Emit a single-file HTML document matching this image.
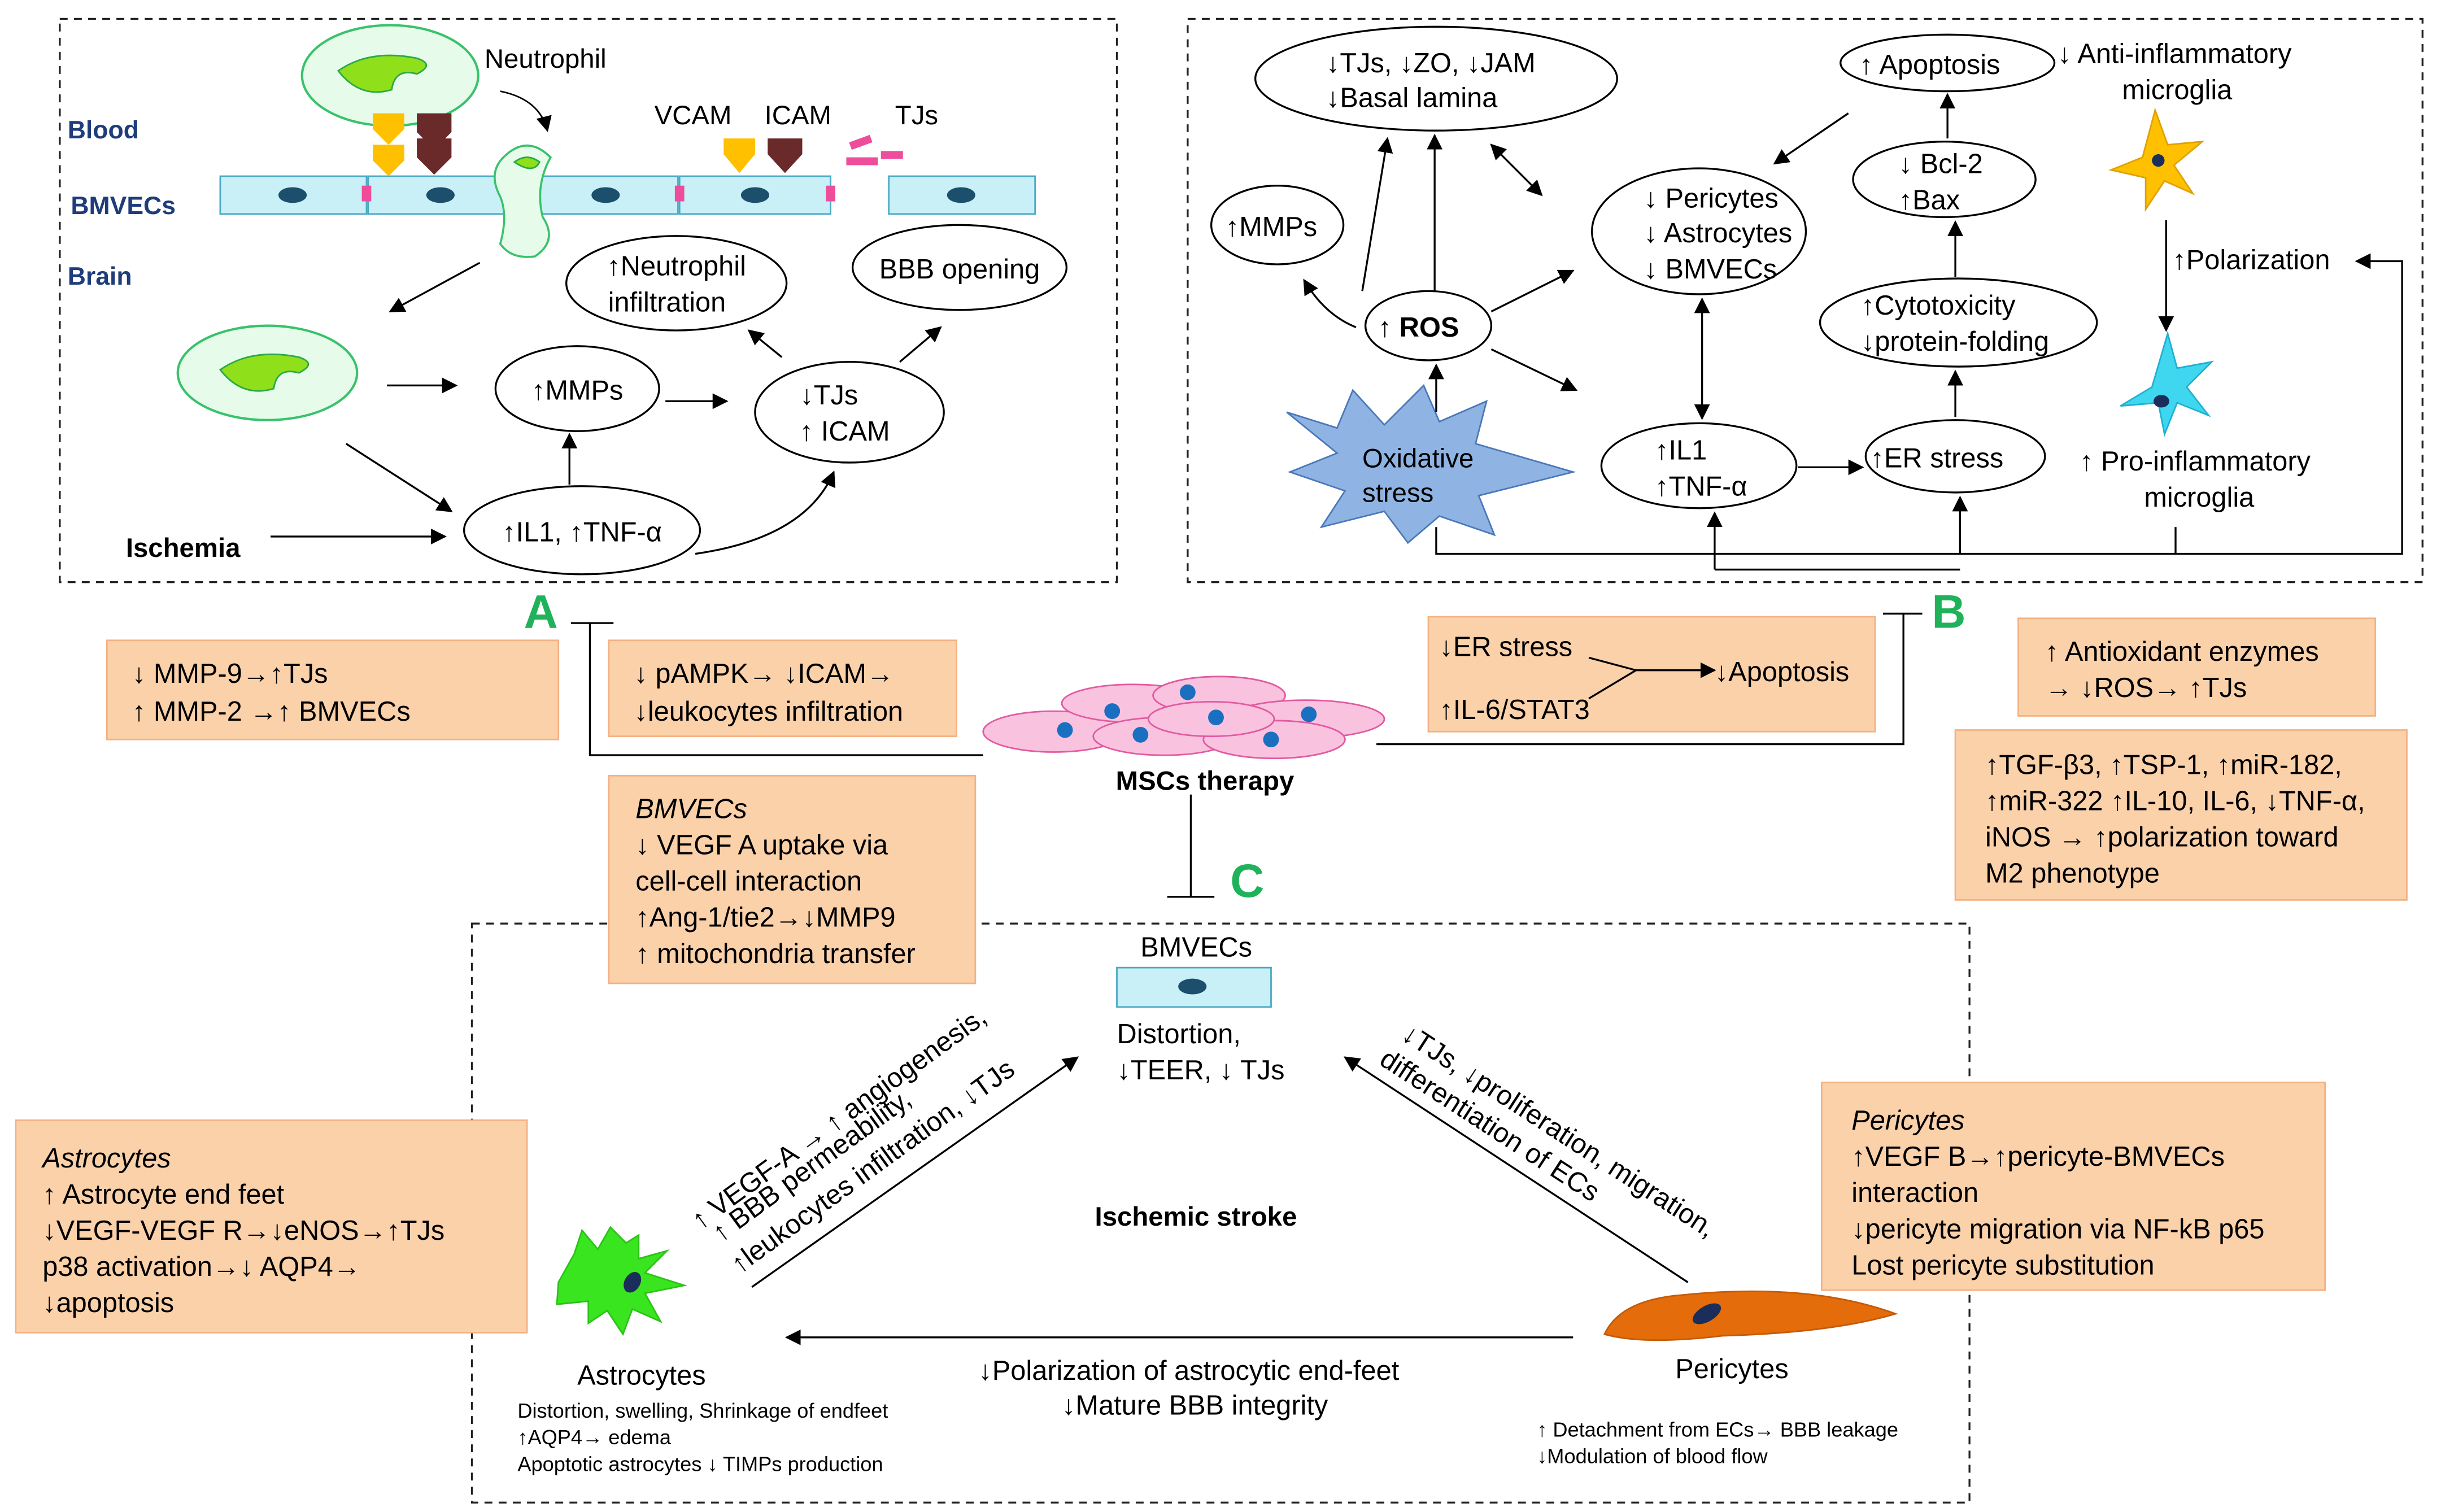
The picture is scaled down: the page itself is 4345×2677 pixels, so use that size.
<!DOCTYPE html>
<html><head><meta charset="utf-8"><style>
html,body{margin:0;padding:0;background:#fff}
svg{display:block}
text{font-family:"Liberation Sans",Arial,sans-serif;fill:#000}
</style></head><body>
<svg width="4345" height="2677" viewBox="0 0 1560 961" preserveAspectRatio="none" xmlns="http://www.w3.org/2000/svg">
<defs>
<marker id="ar" markerWidth="10" markerHeight="10" refX="9" refY="5" orient="auto" markerUnits="userSpaceOnUse"><path d="M0,0 L10,5 L0,10 z" fill="#000"/></marker>
<marker id="ar2" markerWidth="10" markerHeight="10" refX="1" refY="5" orient="auto" markerUnits="userSpaceOnUse"><path d="M10,0 L0,5 L10,10 z" fill="#000"/></marker>
</defs>
<g fill="none" stroke="#222" stroke-width="1.2" stroke-dasharray="5,4">
<rect x="38" y="12" width="672" height="358"/>
<rect x="755" y="12" width="785" height="358"/>
<rect x="300" y="587" width="952" height="368"/>
</g>
<!-- Panel A -->
<g font-size="16" font-weight="bold">
<text x="43" y="88" style="fill:#1f3d7a">Blood</text>
<text x="45" y="136" style="fill:#1f3d7a">BMVECs</text>
<text x="43" y="181" style="fill:#1f3d7a">Brain</text>
</g>
<g fill="#c9f0f7" stroke="#4aa9c4" stroke-width="1">
<rect x="140" y="112" width="93" height="24"/><rect x="234" y="112" width="93" height="24"/>
<rect x="338" y="112" width="93" height="24"/><rect x="432" y="112" width="96" height="24"/>
<rect x="565" y="112" width="93" height="24"/>
</g>
<g fill="#1b4f6b"><ellipse cx="186" cy="124" rx="9" ry="5"/><ellipse cx="280" cy="124" rx="9" ry="5"/><ellipse cx="385" cy="124" rx="9" ry="5"/><ellipse cx="480" cy="124" rx="9" ry="5"/><ellipse cx="611" cy="124" rx="9" ry="5"/></g>
<g fill="#ee4d9b"><rect x="230" y="118" width="6" height="10"/><rect x="325" y="118" width="6" height="10"/><rect x="429" y="118" width="6" height="10"/><rect x="525" y="118" width="6" height="10"/><rect x="540" y="88" width="14" height="5" transform="rotate(-20 547 90)"/><rect x="538" y="100" width="20" height="5"/><rect x="560" y="96" width="14" height="5"/></g>
<ellipse cx="248" cy="48" rx="56" ry="32" fill="#e6fbe9" stroke="#39c26b" stroke-width="1.5"/>
<path d="M215,45 q20,-14 50,-8 q12,4 0,10 q-14,-4 -16,10 q-20,6 -34,-12z" fill="#8fdf1a" stroke="#2aa84a"/>
<path d="M237,72 l20,0 0,10 -10,10 -10,-10z" fill="#ffc000"/>
<path d="M237,92 l20,0 0,10 -10,10 -10,-10z" fill="#ffc000"/>
<path d="M265,88 l22,0 0,12 -11,11 -11,-11z M265,72 l22,0 0,12 -11,11 -11,-11z" fill="#6b2a2a"/>
<path d="M460,88 l20,0 0,10 -10,12 -10,-12z" fill="#ffc000"/>
<path d="M488,88 l22,0 0,10 -11,12 -11,-12z" fill="#6b2a2a"/>
<path d="M320,100 q15,-15 30,0 q-10,18 -5,38 q10,15 -5,25 q-15,2 -22,-8 q5,-18 0,-30 q-8,-15 2,-25z" fill="#e6fbe9" stroke="#39c26b" stroke-width="1.3"/>
<path d="M327,103 q8,-6 16,0 q-4,8 -16,0z" fill="#8fdf1a" stroke="#2aa84a"/>
<text x="308" y="43" font-size="17">Neutrophil</text>
<path d="M318,58 q25,5 30,25" fill="none" stroke="#000" marker-end="url(#ar)"/>
<text x="416" y="79" font-size="17">VCAM</text><text x="486" y="79" font-size="17">ICAM</text><text x="569" y="79" font-size="17">TJs</text>
<ellipse cx="170" cy="237" rx="57" ry="30" fill="#e6fbe9" stroke="#39c26b" stroke-width="1.5"/>
<path d="M140,235 q20,-14 50,-8 q12,4 0,10 q-14,-4 -16,10 q-20,6 -34,-12z" fill="#8fdf1a" stroke="#2aa84a"/>
<g fill="#fff" stroke="#000" stroke-width="1.2">
<ellipse cx="367" cy="247" rx="52" ry="27"/><ellipse cx="430" cy="180" rx="70" ry="30"/>
<ellipse cx="610" cy="170" rx="68" ry="27"/><ellipse cx="540" cy="262" rx="60" ry="32"/>
<ellipse cx="370" cy="337" rx="75" ry="28"/>
</g>
<g font-size="17.5" text-anchor="middle">
<text x="367" y="254">↑MMPs</text>
<text x="430" y="175">↑Neutrophil</text><text x="424" y="198">infiltration</text>
<text x="610" y="177">BBB opening</text>
<text x="527" y="257">↓TJs</text><text x="537" y="280">↑ ICAM</text>
<text x="370" y="344">↑IL1, ↑TNF-α</text>
</g>
<text x="80" y="354" font-size="17" font-weight="bold">Ischemia</text>
<g stroke="#000" stroke-width="1.2" fill="none">
<line x1="305" y1="167" x2="248" y2="198" marker-end="url(#ar)"/>
<line x1="246" y1="245" x2="290" y2="245" marker-end="url(#ar)"/>
<line x1="220" y1="282" x2="287" y2="325" marker-end="url(#ar)"/>
<line x1="172" y1="341" x2="283" y2="341" marker-end="url(#ar)"/>
<line x1="362" y1="308" x2="362" y2="276" marker-end="url(#ar)"/>
<line x1="423" y1="255" x2="462" y2="255" marker-end="url(#ar)"/>
<line x1="497" y1="227" x2="476" y2="210" marker-end="url(#ar)"/>
<line x1="572" y1="230" x2="598" y2="208" marker-end="url(#ar)"/>
<path d="M442,352 q70,-10 88,-52" marker-end="url(#ar)"/>
</g>
<!-- Panel B -->
<g fill="#fff" stroke="#000" stroke-width="1.2">
<ellipse cx="913" cy="50" rx="115" ry="33"/><ellipse cx="812" cy="143" rx="42" ry="25"/>
<ellipse cx="908" cy="207" rx="40" ry="22"/><ellipse cx="1080" cy="147" rx="68" ry="40"/>
<ellipse cx="1238" cy="40" rx="68" ry="18"/><ellipse cx="1236" cy="114" rx="58" ry="24"/>
<ellipse cx="1245" cy="205" rx="88" ry="28"/><ellipse cx="1243" cy="290" rx="57" ry="23"/>
<ellipse cx="1080" cy="296" rx="62" ry="27"/>
</g>
<g font-size="17.5">
<text x="843" y="46">↓TJs, ↓ZO, ↓JAM</text><text x="843" y="68">↓Basal lamina</text>
<text x="779" y="150">↑MMPs</text>
<text x="876" y="214">↑ <tspan font-weight="bold">ROS</tspan></text>
<text x="1045" y="132">↓ Pericytes</text><text x="1045" y="154">↓ Astrocytes</text><text x="1045" y="177">↓ BMVECs</text>
<text x="1182" y="47">↑ Apoptosis</text>
<text x="1207" y="110">↓ Bcl-2</text><text x="1207" y="133">↑Bax</text>
<text x="1183" y="200">↑Cytotoxicity</text><text x="1183" y="223">↓protein-folding</text>
<text x="1189" y="297">↑ER stress</text>
<text x="1052" y="292">↑IL1</text><text x="1052" y="315">↑TNF-α</text>
<text x="1308" y="40">↓ Anti-inflammatory</text><text x="1349" y="63">microglia</text>
<text x="1381" y="171">↑Polarization</text>
<text x="1322" y="299">↑ Pro-inflammatory</text><text x="1363" y="322">microglia</text>
</g>
<path d="M818,262 L850,272 L860,248 L880,270 L905,245 L915,268 L945,255 L938,282 L1000,300 L940,315 L950,340 L915,328 L895,345 L880,325 L840,335 L855,312 L820,300 L850,288z" fill="#8fb4e3" stroke="#4a78b8"/>
<text x="866" y="297" font-size="17">Oxidative</text><text x="866" y="319" font-size="17">stress</text>
<path d="M1370,70 l8,22 22,-2 -18,15 12,18 -18,-8 -12,18 0,-20 -22,-5 20,-8z" fill="#ffc000" stroke="#e0a000"/>
<circle cx="1372" cy="102" r="4" fill="#1b2d5a"/>
<path d="M1378,212 l6,22 22,-4 -16,16 14,18 -20,-8 -8,20 -4,-20 -24,2 20,-12z" fill="#3ed7ef" stroke="#20b0d0"/>
<ellipse cx="1374" cy="255" rx="5" ry="4" fill="#1b2d5a"/>
<g stroke="#000" stroke-width="1.2" fill="none">
<path d="M862,208 q-20,-8 -33,-30" marker-end="url(#ar)"/>
<line x1="866" y1="185" x2="882" y2="88" marker-end="url(#ar)"/>
<line x1="912" y1="185" x2="912" y2="86" marker-end="url(#ar)"/>
<line x1="980" y1="124" x2="948" y2="92" marker-start="url(#ar2)" marker-end="url(#ar)"/>
<line x1="948" y1="198" x2="1000" y2="172" marker-end="url(#ar)"/>
<line x1="948" y1="222" x2="1002" y2="248" marker-end="url(#ar)"/>
<line x1="913" y1="262" x2="913" y2="232" marker-end="url(#ar)"/>
<line x1="1082" y1="190" x2="1082" y2="266" marker-start="url(#ar2)" marker-end="url(#ar)"/>
<line x1="1143" y1="297" x2="1184" y2="297" marker-end="url(#ar)"/>
<line x1="1243" y1="265" x2="1243" y2="236" marker-end="url(#ar)"/>
<line x1="1243" y1="176" x2="1243" y2="141" marker-end="url(#ar)"/>
<line x1="1238" y1="88" x2="1238" y2="60" marker-end="url(#ar)"/>
<line x1="1175" y1="72" x2="1128" y2="104" marker-end="url(#ar)"/>
<line x1="1377" y1="140" x2="1377" y2="210" marker-end="url(#ar)"/>
<path d="M913,335 V352 H1527 V166 H1498" marker-end="url(#ar)"/>
<line x1="1383" y1="335" x2="1383" y2="352"/>
<line x1="1090" y1="362" x2="1090" y2="326" marker-end="url(#ar)"/>
<line x1="1246" y1="352" x2="1246" y2="316" marker-end="url(#ar)"/>
<line x1="1090" y1="362" x2="1246" y2="362"/>
</g>
<!-- Letters -->
<g font-size="30" font-weight="bold">
<text x="333" y="399" style="fill:#1fb25a">A</text>
<text x="1228" y="399" style="fill:#1fb25a">B</text>
<text x="782" y="570" style="fill:#1fb25a">C</text>
</g>
<!-- Orange boxes -->
<g fill="#fbd1aa" stroke="#f4b183" stroke-width="1">
<rect x="68" y="407" width="287" height="63"/><rect x="387" y="407" width="221" height="61"/>
<rect x="908" y="392" width="284" height="73"/><rect x="1283" y="393" width="227" height="62"/>
<rect x="1243" y="464" width="287" height="108"/><rect x="387" y="493" width="233" height="132"/>
<rect x="10" y="712" width="325" height="135"/><rect x="1158" y="688" width="320" height="132"/>
</g>
<g font-size="17.5">
<text x="84" y="434">↓ MMP-9→↑TJs</text><text x="84" y="458">↑ MMP-2 →↑ BMVECs</text>
<text x="403" y="434">↓ pAMPK→ ↓ICAM→</text><text x="403" y="458">↓leukocytes infiltration</text>
<text x="915" y="417">↓ER stress</text><text x="915" y="457">↑IL-6/STAT3</text><text x="1090" y="433">↓Apoptosis</text>
<text x="1300" y="420">↑ Antioxidant  enzymes</text><text x="1300" y="443">→ ↓ROS→ ↑TJs</text>
<text x="1262" y="492">↑TGF-β3, ↑TSP-1, ↑miR-182,</text><text x="1262" y="515">↑miR-322  ↑IL-10, IL-6, ↓TNF-α,</text><text x="1262" y="538">iNOS → ↑polarization toward</text><text x="1262" y="561">M2 phenotype</text>
<text x="404" y="520" font-style="italic">BMVECs</text><text x="404" y="543">↓ VEGF A uptake via</text><text x="404" y="566">cell-cell interaction</text><text x="404" y="589">↑Ang-1/tie2→↓MMP9</text><text x="404" y="612">↑ mitochondria transfer</text>
<text x="27" y="742" font-style="italic">Astrocytes</text><text x="27" y="765">↑ Astrocyte end feet</text><text x="27" y="788">↓VEGF-VEGF R→↓eNOS→↑TJs</text><text x="27" y="811">p38 activation→↓ AQP4→</text><text x="27" y="834">↓apoptosis</text>
<text x="1177" y="718" font-style="italic">Pericytes</text><text x="1177" y="741">↑VEGF B→↑pericyte-BMVECs</text><text x="1177" y="764">interaction</text><text x="1177" y="787">↓pericyte migration via NF-kB p65</text><text x="1177" y="810">Lost pericyte substitution</text>
</g>
<g stroke="#000" stroke-width="1.2" fill="none">
<path d="M1010,418 L1040,426 L1010,444 M1040,426 H1090" marker-end="url(#ar)"/>
<path d="M625,480 H375 V396 M363,396 H390"/>
<path d="M875,473 H1210 V390 M1197,390 H1222"/>
<path d="M757,505 V570 M742,570 H772"/>
</g>
<!-- MSCs -->
<g fill="#f9c3df" stroke="#e25aa0" stroke-width="1">
<ellipse cx="670" cy="465" rx="45" ry="13"/><ellipse cx="720" cy="447" rx="45" ry="12"/><ellipse cx="775" cy="442" rx="42" ry="12"/>
<ellipse cx="830" cy="457" rx="50" ry="12"/><ellipse cx="740" cy="468" rx="45" ry="12"/><ellipse cx="810" cy="470" rx="45" ry="12"/>
<ellipse cx="770" cy="457" rx="40" ry="11"/>
</g>
<g fill="#1a6fc0"><circle cx="677" cy="464" r="5"/><circle cx="707" cy="452" r="5"/><circle cx="755" cy="440" r="5"/><circle cx="773" cy="456" r="5"/><circle cx="725" cy="467" r="5"/><circle cx="832" cy="454" r="5"/><circle cx="808" cy="470" r="5"/></g>
<text x="766" y="502" font-size="17" font-weight="bold" text-anchor="middle">MSCs therapy</text>
<!-- Panel C -->
<rect x="710" y="615" width="98" height="25" fill="#c9f0f7" stroke="#4aa9c4"/>
<ellipse cx="758" cy="627" rx="9" ry="5" fill="#1b4f6b"/>
<g font-size="17.5">
<text x="725" y="608">BMVECs</text>
<text x="710" y="663">Distortion,</text><text x="710" y="686">↓TEER, ↓ TJs</text>
<text x="696" y="779" font-weight="bold" font-size="17">Ischemic stroke</text>
<text x="367" y="880">Astrocytes</text>
<text x="1065" y="876">Pericytes</text>
<text x="622" y="877">↓Polarization of astrocytic end-feet</text>
<text x="675" y="899">↓Mature BBB integrity</text>
</g>
<g font-size="13">
<text x="329" y="901">Distortion, swelling, Shrinkage of endfeet</text>
<text x="329" y="918">↑AQP4→ edema</text>
<text x="329" y="935">Apoptotic astrocytes ↓ TIMPs production</text>
<text x="977" y="913">↑ Detachment from ECs→ BBB leakage</text>
<text x="977" y="930">↓Modulation of blood flow</text>
</g>
<g font-size="17.5">
<text transform="translate(445,782) rotate(-36)">↑ VEGF-A → ↑ angiogenesis,</text>
<text transform="translate(458,790) rotate(-36)">↑ BBB permeability,</text>
<text transform="translate(470,810) rotate(-36)">↑leukocytes infiltration, ↓TJs</text>
<text transform="translate(890,660) rotate(33)">↓TJs, ↓proliferation, migration,</text>
<text transform="translate(876,676) rotate(33)">differentiation of ECs</text>
</g>
<path d="M355,815 l10,-18 5,-15 10,12 8,-14 10,10 8,-5 0,15 18,-5 -14,14 25,8 -25,5 10,18 -18,-8 -6,16 -10,-15 -12,8 0,-14 -20,2 z" fill="#39e51f" stroke="#2cc218"/>
<ellipse cx="402" cy="815" rx="5" ry="7" fill="#1b2d5a" transform="rotate(30 402 815)"/>
<path d="M1020,848 q10,-22 50,-25 q80,-8 135,12 q-40,12 -110,14 q-50,6 -75,-1z" fill="#e46c0a" stroke="#c55a08"/>
<ellipse cx="1085" cy="835" rx="10" ry="5" fill="#1b2d5a" transform="rotate(-30 1085 835)"/>
<g stroke="#000" stroke-width="1.2" fill="none">
<line x1="1000" y1="850" x2="500" y2="850" marker-end="url(#ar)"/>
<line x1="478" y1="818" x2="685" y2="672" marker-end="url(#ar)"/>
<line x1="1073" y1="815" x2="855" y2="672" marker-end="url(#ar)"/>
</g>
</svg>
</body></html>
